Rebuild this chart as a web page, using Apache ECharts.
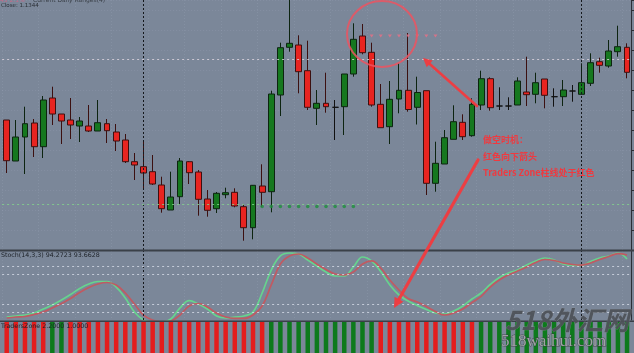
<!DOCTYPE html>
<html><head><meta charset="utf-8">
<script src="https://cdn.jsdelivr.net/npm/echarts@6/dist/echarts.min.js"></script>
<style>html,body{margin:0;padding:0;background:#7b8799;overflow:hidden}#c{width:634px;height:353px}</style>
</head><body><div id="c"></div><script>
// ---- data (relative price units) ----
const categories = ['1','2','3','4','5','6','7','8','9','10','11','12','13','14','15','16','17','18','19','20','21','22','23','24','25','26','27','28','29','30','31','32','33','34','35','36','37','38','39','40','41','42','43','44','45','46','47','48','49','50','51','52','53','54','55','56','57','58','59','60','61','62','63','64','65','66','67','68','69'];
const opens  = [130,89,113,127,103.3,152,136,130,124,124,119,126.3,118,110,88.3,83.3,78.3,65,40,53.3,88.3,78,51,41.3,55.3,57.7,43.3,22.3,64,58.3,155,202.7,205,179.3,141.7,146.7,142.7,143.3,176,214,197.7,145.7,123.3,151,159.7,142.7,159.3,66.7,86,110.7,127.7,114.3,145,171.3,144,144,145,158,155.7,171,153.3,153.3,159,155.7,166.7,188.3,184,198.3,202.7];
const closes = [89.3,113,126.3,103.3,150,136,129,125,129,119,127.3,119.3,109,88.3,85,77,66,41.3,53,89,77.3,50.7,39.7,56.7,57.3,44,22.3,64.7,57.7,156,202.3,206.7,178.3,142.7,146.7,143.3,142.7,176,210.7,197.3,145,122.3,150.7,159.7,140.5,157.5,66.7,86.7,112.3,128.3,113.3,145.7,171.3,142.3,144,144,169,155.3,167.3,154.7,153.3,160,159,167.3,187.3,184.7,199,203.3,177.7];
const lows   = [77,89,76,93,92,125,106,111,108,118,119,107,99,87,70,60,65,37.3,40,46,66,34.3,33.3,37,51.7,42.7,9.3,10.7,43.3,37.7,134,198.3,156.7,140,125,137.3,110,115,173.3,195.7,143.3,122.3,106,136.7,138.3,125.5,55,58.3,86,110.7,110,113.3,140,139.3,140,140,145,144,146.7,141.7,143.3,144,148.3,155.7,164,177.3,182.3,193.3,171.7];
const highs  = [130,130,143.3,131,154,163.3,136,152,133,145,150,131,126,116,97,109,95,73.3,78.3,92,89,80,60,58,62.3,61.7,46,65,85.7,159.3,207.3,250,214.7,209.3,160,177.3,150,176,226.7,226,207.3,166,169,186.7,217,173.3,159.3,108.3,120,144.7,135.7,151.7,179.3,172.7,162.7,152.7,172.7,193.3,177.3,171,161.7,170,165,186.7,196.7,192.3,210,224.3,206.7];
const stochK = [13.9,15.2,16.5,19.1,24.3,29.6,36.1,43.3,51.1,57.0,60.2,60.2,53.0,38.7,20.4,10.0,7.4,7.4,11.3,25.7,35.4,30.9,24.3,15.2,12.6,13.9,15.2,20.4,45.2,75.2,93.5,97.4,96.1,88.3,80.4,72.6,67.4,67.4,79.1,92.2,87.0,73.3,55.7,42.6,34.8,28.9,23.7,19.1,17.8,21.7,28.3,37.4,45.2,56.3,65.4,71.3,75.2,81.7,87.0,90.9,88.3,83.0,81.1,81.1,86.3,90.9,93.5,97.4,89.6];
const stochD = [12.6,13.9,14.6,17.2,20.4,25.7,31.5,38.0,45.9,52.4,57.0,58.9,55.7,45.2,30.9,16.5,10.0,7.4,8.7,16.5,28.3,31.5,27.0,19.1,13.9,12.0,12.0,16.5,28.3,55.7,83.0,93.5,96.1,90.9,83.0,75.9,70.0,68.7,72.6,83.0,87.0,77.8,62.2,49.1,38.0,33.5,27.6,21.1,16.5,19.1,24.3,32.8,40.7,53.0,62.2,68.7,73.9,79.1,85.0,88.9,87.6,84.3,82.4,81.7,84.3,88.9,92.8,96.7,94.8];
// Traders Zone state: 1 = green, -1 = red
const zoneState = [-1,-1,-1,-1,-1,1,1,-1,-1,-1,-1,-1,-1,-1,-1,-1,-1,-1,-1,-1,-1,-1,-1,-1,-1,-1,-1,-1,-1,1,1,1,1,1,1,1,1,1,1,1,1,-1,-1,-1,-1,-1,-1,-1,-1,-1,-1,-1,1,1,1,1,1,1,1,1,1,1,1,1,1,1,1,1,1];
const sellDots = [['41',214],['42',214],['43',214],['44',214],['45',214],['46',214],['47',214],['48',214]];
const buyDots  = [['29',43.5],['30',43.5],['31',43.5],['32',43.5],['33',43.5],['34',43.5],['35',43.5],['36',43.5],['37',43.5],['38',43.5],['39',43.5]];
const levelHigh = 190.5, levelLow = 45.5;
const stochLevels = [80, 70, 30, 20];
const periodSeparators = ['16', '64'];

// ---- build ----
const chart = echarts.init(document.getElementById('c'), null, {renderer: 'canvas'});
const candleData = categories.map((c, i) => {
  const it = {value: [opens[i], closes[i], lows[i], highs[i]]};
  if (opens[i] === closes[i]) it.itemStyle = {color: '#111', borderColor: '#111', color0: '#111', borderColor0: '#111'};
  return it;
});
const zoneData = zoneState.map(s => ({value: 1, itemStyle: {color: s > 0 ? '#0d7a1c' : '#e41d1d'}}));
const vSep = periodSeparators.map(x => ({xAxis: x}));
const dotted = {color: '#15181c', width: 1, type: [2, 2]};

function arrow(x1, y1, x2, y2, w, head, color) {
  const a = Math.atan2(y2 - y1, x2 - x1);
  const bx = x2 - Math.cos(a) * head, by = y2 - Math.sin(a) * head;
  const px = Math.sin(a) * head * 0.5, py = -Math.cos(a) * head * 0.5;
  return [
    {type: 'line', shape: {x1: x1, y1: y1, x2: bx, y2: by}, style: {stroke: color, lineWidth: w, lineCap: 'round'}, z: 200},
    {type: 'polygon', shape: {points: [[x2, y2], [bx + px, by + py], [bx - px, by - py]]}, style: {fill: color}, z: 200}
  ];
}
const red = 'rgba(242,58,62,0.95)';
const gridBase = {left: 2.14, right: 2.4, containLabel: false, outerBoundsMode: 'none'};

chart.setOption({
  animation: false,
  backgroundColor: '#7b8799',
  grid: [
    Object.assign({top: 0, height: 250}, gridBase),
    Object.assign({top: 251, height: 69}, gridBase),
    Object.assign({top: 322, height: 31}, gridBase)
  ],
  xAxis: [0, 1, 2].map(g => ({
    type: 'category', gridIndex: g, data: categories,
    axisLine: {show: false}, axisTick: {show: false}, axisLabel: {show: false},
    splitLine: {show: g < 2, interval: 3, lineStyle: {color: 'rgba(160,172,190,0.25)', type: [1, 2]}}
  })),
  yAxis: [
    {type: 'value', gridIndex: 0, min: 0, max: 250, interval: 20, position: 'right',
     axisLine: {show: true, lineStyle: {color: '#2a2f36'}}, axisTick: {show: true, length: 3, lineStyle: {color: '#2a2f36'}},
     axisLabel: {show: false}, splitLine: {show: true, lineStyle: {color: 'rgba(160,172,190,0.25)', type: [1, 2]}}},
    {type: 'value', gridIndex: 1, min: 10, max: 100, position: 'right',
     axisLine: {show: true, lineStyle: {color: '#2a2f36'}}, axisTick: {show: false},
     axisLabel: {show: false}, splitLine: {show: false}},
    {type: 'value', gridIndex: 2, min: 0, max: 1, show: false}
  ],
  series: [
    {type: 'candlestick', xAxisIndex: 0, yAxisIndex: 0, data: candleData, barWidth: '70%', clip: true,
     itemStyle: {color: '#16781f', color0: '#e82420', borderColor: '#0d2410', borderColor0: '#3c1010', borderWidth: 1},
     markLine: {silent: true, symbol: 'none', label: {show: false},
       data: vSep.map(d => Object.assign({lineStyle: dotted}, d)).concat([
         {yAxis: levelHigh, lineStyle: {color: 'rgba(225,215,225,0.8)', width: 1, type: [2, 3]}},
         {yAxis: levelLow, lineStyle: {color: 'rgba(130,210,140,0.85)', width: 1, type: [2, 3]}}
       ])}},
    {type: 'scatter', xAxisIndex: 0, yAxisIndex: 0, data: sellDots, symbol: 'triangle', symbolRotate: 180, symbolSize: [4, 3],
     itemStyle: {color: '#ea6f86'}, z: 5},
    {type: 'scatter', xAxisIndex: 0, yAxisIndex: 0, data: buyDots, symbol: 'circle', symbolSize: 3.6,
     itemStyle: {color: '#1e8f3c'}, z: 5},
    {type: 'line', name: '%K', xAxisIndex: 1, yAxisIndex: 1, data: stochK, smooth: 0.4, symbol: 'none', clip: true,
     lineStyle: {color: '#66d48e', width: 1.7},
     markLine: {silent: true, symbol: 'none', label: {show: false},
       data: vSep.map(d => Object.assign({lineStyle: dotted}, d)).concat(
         stochLevels.map(v => ({yAxis: v, lineStyle: {color: 'rgba(215,220,232,0.8)', width: 1, type: [2, 3]}})))}},
    {type: 'line', name: '%D', xAxisIndex: 1, yAxisIndex: 1, data: stochD, smooth: 0.4, symbol: 'none', clip: true,
     lineStyle: {color: '#c05a62', width: 1.7}},
    {type: 'bar', xAxisIndex: 2, yAxisIndex: 2, data: zoneData, barWidth: 4.5}
  ],
  graphic: [
    {type: 'rect', shape: {x: 0, y: 249.5, width: 634, height: 2}, style: {fill: '#3a4048'}, z: 150},
    {type: 'rect', shape: {x: 0, y: 320.5, width: 634, height: 1.6}, style: {fill: '#3a4048'}, z: 150},
    {type: 'text', x: 0, y: 0, style: {text: '45 2.1%', fill: '#c26a88', font: '6px "DejaVu Sans"', textVerticalAlign: 'middle'}, z: 160},
    {type: 'text', x: 33, y: 0, style: {text: 'Current Daily Ranges(4)', fill: '#3a4048', font: '6px "DejaVu Sans"', textVerticalAlign: 'middle'}, z: 160},
    {type: 'text', x: 1, y: 6, style: {text: 'Close: 1.1344', fill: '#2a2f36', font: '5.5px "DejaVu Sans"', textVerticalAlign: 'middle'}, z: 160},
    {type: 'text', x: 1, y: 255.5, style: {text: 'Stoch(14,3,3) 94.2723 93.6628', fill: '#1c2026', font: '6.3px "DejaVu Sans"', textVerticalAlign: 'middle'}, z: 160},
    {type: 'text', x: 1, y: 326, style: {text: 'TradersZone 2.2000 1.0000', fill: '#1c2026', font: '6.3px "DejaVu Sans"', textVerticalAlign: 'middle'}, z: 160},
    {type: 'ellipse', shape: {cx: 382, cy: 34, rx: 35, ry: 33}, style: {fill: null, stroke: 'rgba(236,84,96,0.85)', lineWidth: 2}, z: 200},
    ...arrow(477, 106, 423, 58, 2.6, 9, red),
    ...arrow(478, 160, 394, 308, 3.2, 10, red),
    {type: 'text', x: 483, y: 140, style: {text: '做空时机：', fill: '#ee3a40', font: 'bold 9px "Noto Sans CJK SC"', textVerticalAlign: 'middle'}, z: 200},
    {type: 'text', x: 483, y: 157, style: {text: '红色向下箭头', fill: '#ee3a40', font: 'bold 9px "Noto Sans CJK SC"', textVerticalAlign: 'middle'}, z: 200},
    {type: 'text', x: 483, y: 173, style: {text: 'Traders Zone柱线处于红色', fill: '#ee3a40', font: 'bold 9px "Noto Sans CJK SC"', textVerticalAlign: 'middle'}, z: 200},
    {type: 'text', x: 505, y: 320, style: {text: '518外汇网', fill: 'rgba(78,82,88,0.95)', stroke: 'rgba(150,155,160,0.5)', lineWidth: 0.6, font: 'italic bold 26px "Noto Sans CJK SC"', textVerticalAlign: 'middle'}, z: 210},
    {type: 'text', x: 501, y: 342, style: {text: '518waihui.com', fill: 'rgba(165,168,172,0.95)', stroke: 'rgba(55,58,62,0.8)', lineWidth: 0.8, font: '17px "Liberation Serif"', textVerticalAlign: 'middle'}, z: 210}
  ]
});
</script></body></html>
